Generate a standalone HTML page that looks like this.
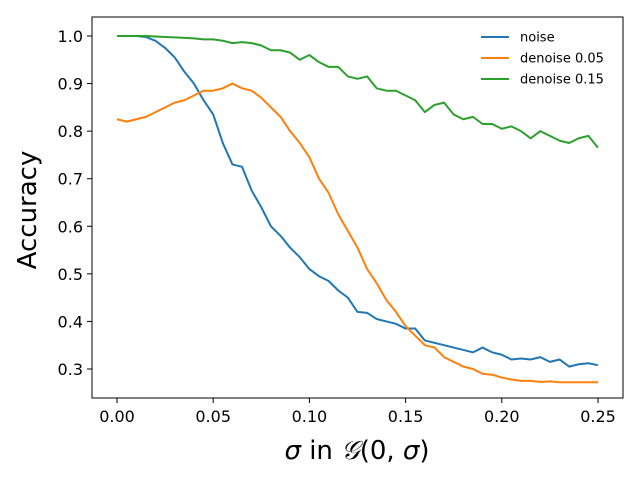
<!DOCTYPE html>
<html><head><meta charset="utf-8"><style>
body{margin:0;background:#fff;}
svg text{font-family:"DejaVu Sans","Liberation Sans",sans-serif;}
</style></head><body>
<svg id="chart" width="640" height="480" xmlns="http://www.w3.org/2000/svg">
<rect width="640" height="480" fill="#fff"/>
<g id="marks"></g>
<rect x="92" y="17" width="531" height="381" fill="none" stroke="#000" stroke-width="1"/>
<g id="axes"></g>
<text x="36" y="210" font-size="26" text-anchor="middle" transform="rotate(-90 36 210)">Accuracy</text>
<text x="357" y="459" font-size="26" text-anchor="middle"><tspan font-style="italic">σ</tspan> in <tspan font-style="italic">𝒢</tspan>(0, <tspan font-style="italic">σ</tspan>)</text>
<g id="legend"></g>
</svg>
<script>
const xTicks=[0,0.05,0.1,0.15,0.2,0.25];
const xTickLabels=["0.00","0.05","0.10","0.15","0.20","0.25"];
const yTicks=[0.3,0.4,0.5,0.6,0.7,0.8,0.9,1.0];
const yTickLabels=["0.3","0.4","0.5","0.6","0.7","0.8","0.9","1.0"];
const seriesNames=["noise","denoise 0.05","denoise 0.15"];
const noise=[1.0,1.0,1.0,0.998,0.99,0.975,0.955,0.925,0.9,0.865,0.835,0.775,0.73,0.725,0.675,0.64,0.6,0.58,0.555,0.535,0.51,0.495,0.485,0.465,0.45,0.42,0.418,0.405,0.4,0.395,0.385,0.385,0.36,0.355,0.35,0.345,0.34,0.335,0.345,0.335,0.33,0.32,0.322,0.32,0.325,0.315,0.32,0.305,0.31,0.312,0.308];
const denoise005=[0.825,0.82,0.825,0.83,0.84,0.85,0.86,0.865,0.875,0.885,0.885,0.89,0.9,0.89,0.885,0.87,0.85,0.83,0.8,0.775,0.745,0.7,0.67,0.625,0.59,0.555,0.51,0.48,0.445,0.42,0.39,0.37,0.35,0.345,0.325,0.315,0.305,0.3,0.29,0.288,0.282,0.278,0.275,0.275,0.273,0.274,0.272,0.272,0.272,0.272,0.272];
const denoise015=[1,1,1,1,0.999,0.998,0.997,0.996,0.995,0.993,0.993,0.99,0.985,0.987,0.985,0.98,0.97,0.97,0.965,0.95,0.96,0.945,0.935,0.935,0.915,0.91,0.915,0.89,0.885,0.885,0.875,0.865,0.84,0.855,0.86,0.835,0.825,0.83,0.815,0.815,0.805,0.81,0.8,0.785,0.8,0.79,0.78,0.775,0.785,0.79,0.765];
const xStep=0.005;
const colors=["#1f77b4","#ff7f0e","#2ca02c"];
const NS="http://www.w3.org/2000/svg";
function xs(v){return 117+(v/0.25)*481;}
function ys(v){return 36+(1-v)*475.7;}
function mk(t,a,p){const e=document.createElementNS(NS,t);for(const k in a)e.setAttribute(k,a[k]);p.appendChild(e);return e;}
const axes=document.getElementById('axes');
xTicks.forEach((t,i)=>{
 const l=mk('line',{x1:xs(t),x2:xs(t),y1:398,y2:403,stroke:'#000'},axes);
 
 
 const tx=mk('text',{x:xs(t),y:422,'font-size':16,'text-anchor':'middle'},axes);
 tx.textContent=xTickLabels[i];
 
 
});
yTicks.forEach((t,i)=>{
 const l=mk('line',{x1:87,x2:92,y1:ys(t),y2:ys(t),stroke:'#000'},axes);
 
 
 const tx=mk('text',{x:83,y:ys(t)+6,'font-size':16,'text-anchor':'end'},axes);
 tx.textContent=yTickLabels[i];
 
 
});
const marks=document.getElementById('marks');
[noise,denoise005,denoise015].forEach((s,si)=>{
 const d=s.map((v,i)=>(i?'L':'M')+xs(i*xStep).toFixed(2)+','+ys(v).toFixed(2)).join('');
 const p=mk('path',{d:d,fill:'none',stroke:colors[si],'stroke-width':2,'stroke-linejoin':'round'},marks);
 
 
});
const lg=document.getElementById('legend');
seriesNames.forEach((n,i)=>{
 const y=37+i*21;
 const l=mk('line',{x1:481,x2:509,y1:y,y2:y,stroke:colors[i],'stroke-width':2},lg);
 
 
 const t=mk('text',{x:520,y:y+4.5,'font-size':13},lg);
 t.textContent=n;
 
 
});
</script>
</body></html>
